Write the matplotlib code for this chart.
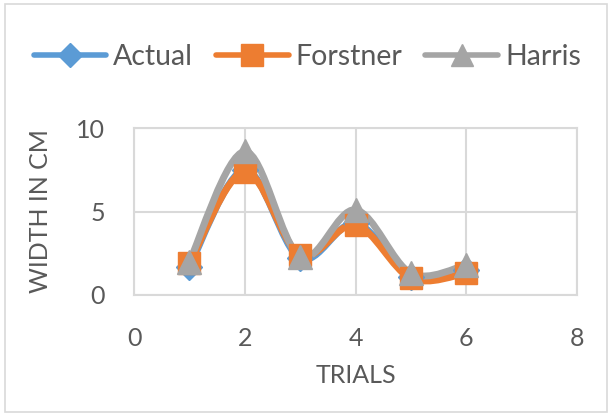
import numpy as np
import matplotlib
matplotlib.use("Agg")
import matplotlib.pyplot as plt
from matplotlib.path import Path
from matplotlib.patches import PathPatch, Rectangle
from matplotlib.lines import Line2D

trials = [1, 2, 3, 4, 5, 6]
actual = [1.7, 7.5, 2.2, 4.3, 1.1, 1.5]
forstner = [1.9, 7.4, 2.4, 4.2, 1.0, 1.3]
harris = [2.0, 8.6, 2.3, 5.1, 1.3, 1.8]
series_names = ["Actual", "Forstner", "Harris"]
colors = ["#5B9BD5", "#ED7D31", "#A5A5A5"]
markers = ["D", "s", "^"]
msizes = [13, 16, 17]

plt.rcParams['font.family'] = ['Lato', 'DejaVu Sans']

fig = plt.figure(figsize=(6.12, 4.16), dpi=100)
fig.patches.append(Rectangle((5 / 612, 4 / 416), 1 - 10 / 612, 1 - 8 / 416,
                             transform=fig.transFigure,
                             fill=False, edgecolor="#d9d9d9", linewidth=1.2))
ax = fig.add_axes([0.219, 0.291, 0.724, 0.401])


def smooth_path(xs, ys):
    xs = np.asarray(xs, float)
    ys = np.asarray(ys, float)
    n = len(xs)
    verts = [(xs[0], ys[0])]
    codes = [Path.MOVETO]
    for i in range(n - 1):
        p0 = np.array([xs[max(i - 1, 0)], ys[max(i - 1, 0)]])
        p1 = np.array([xs[i], ys[i]])
        p2 = np.array([xs[i + 1], ys[i + 1]])
        p3 = np.array([xs[min(i + 2, n - 1)], ys[min(i + 2, n - 1)]])
        c1 = p1 + (p2 - p0) / 6.0
        c2 = p2 - (p3 - p1) / 6.0
        verts += [tuple(c1), tuple(c2), tuple(p2)]
        codes += [Path.CURVE4] * 3
    return Path(verts, codes)


for vals, c, m, ms in zip([actual, forstner, harris], colors, markers, msizes):
    patch = PathPatch(smooth_path(trials, vals), facecolor="none", edgecolor=c,
                      linewidth=5, capstyle="round", joinstyle="round", zorder=3)
    ax.add_patch(patch)
    ax.plot(trials, vals, linestyle="none", marker=m, markersize=ms, color=c, zorder=4)

ax.set_xlim(0, 8)
ax.set_ylim(0, 10)
ax.set_xticks([0, 2, 4, 6, 8])
ax.set_yticks([0, 5, 10])
ax.grid(True, color="#d9d9d9", linewidth=1.5)
ax.set_axisbelow(True)
for s in ax.spines.values():
    s.set_color("#d9d9d9")
    s.set_linewidth(1.5)
ax.tick_params(length=0, labelsize=18, colors="#595959")
ax.tick_params(axis="y", pad=21)
ax.tick_params(axis="x", pad=23)
ax.set_xlabel("TRIALS", fontsize=18, color="#595959")
ax.set_ylabel("WIDTH IN CM", fontsize=18, color="#595959")
ax.xaxis.set_label_coords(0.5, -0.415)
ax.yaxis.set_label_coords(-0.185, 0.5)

handles = [Line2D([0], [0], color=c, linewidth=4, marker=m, markersize=ms * 0.95,
                  solid_capstyle="round")
           for c, m, ms in zip(colors, markers, msizes)]
fig.legend(handles, series_names, loc="center", bbox_to_anchor=(0.502, 0.862), ncol=3,
           frameon=False, fontsize=20.5, labelcolor="#595959", handlelength=2.55,
           handletextpad=0.25, columnspacing=0.8, borderpad=0.1)

fig.savefig("out.png", dpi=100)
